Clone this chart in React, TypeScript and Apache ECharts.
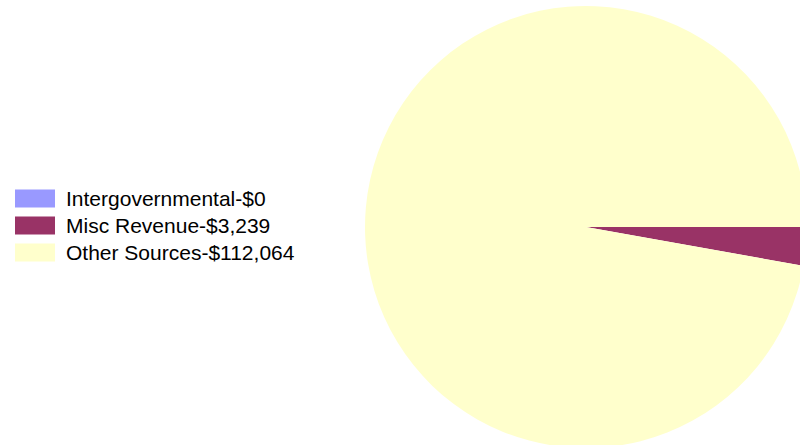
import React, { useEffect, useRef } from "react";
import * as echarts from "echarts";

const categories = ["Intergovernmental", "Misc Revenue", "Other Sources"];
const values = [0, 3239, 112064];
const colors = ["#9999FF", "#993366", "#FFFFCC"];

export default function App() {
  const ref = useRef<HTMLDivElement>(null);
  useEffect(() => {
    document.body.style.margin = "0";
    const chart = echarts.init(ref.current!, null, { renderer: "svg" });
    const data = categories.map((name, i) => ({
      name,
      value: values[i],
      itemStyle: { color: colors[i] },
    }));
    chart.setOption({
      animation: false,
      backgroundColor: "#ffffff",
      legend: {
        orient: "vertical",
        left: 15,
        top: 188,
        padding: 0,
        itemWidth: 40,
        itemHeight: 18,
        itemGap: 6,
        icon: "rect",
        selectedMode: false,
        data: categories,
        formatter: (name: string) => {
          const i = categories.indexOf(name);
          return `${name}-$${values[i].toLocaleString("en-US")}`;
        },
        textStyle: {
          fontFamily: "Arial, 'Liberation Sans', sans-serif",
          fontSize: 21,
          color: "#000000",
          padding: [0, 0, 0, 6],
        },
      },
      series: [
        {
          type: "pie",
          center: [586, 227],
          radius: 221,
          startAngle: 0,
          clockwise: true,
          minAngle: 0,
          avoidLabelOverlap: false,
          stillShowZeroSum: true,
          label: { show: false },
          labelLine: { show: false },
          emphasis: { disabled: true },
          itemStyle: { borderWidth: 0 },
          data,
        },
      ],
    });
    return () => chart.dispose();
  }, []);
  return <div ref={ref} style={{ width: 800, height: 445 }} />;
}
